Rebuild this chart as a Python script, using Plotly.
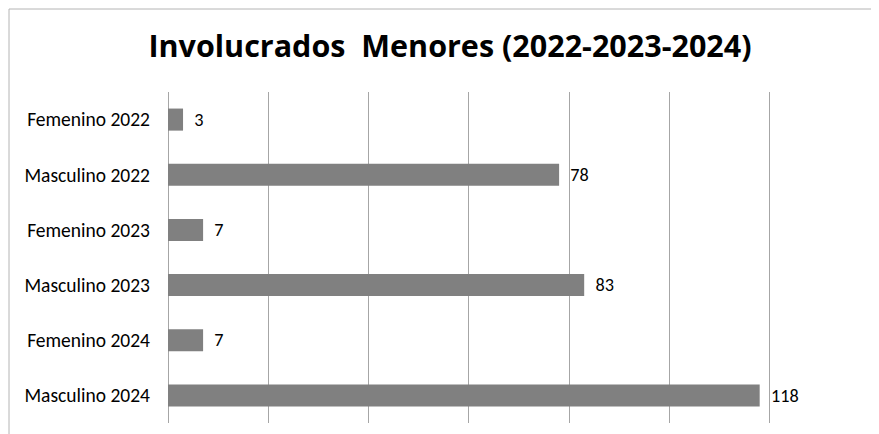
import plotly.graph_objects as go

categories = ["Femenino 2022", "Masculino 2022", "Femenino 2023", "Masculino 2023", "Femenino 2024", "Masculino 2024"]
values = [3, 78, 7, 83, 7, 118]
title_text = "Involucrados  Menores (2022-2023-2024)"

FONT = "Carlito, Calibri, Lato, sans-serif"
TFONT = "Open Sans, sans-serif"

fig = go.Figure(go.Bar(
    x=values,
    y=categories,
    orientation="h",
    marker=dict(color="#808080", line=dict(width=0)),
    text=values,
    texttemplate="  %{x}",
    textposition="outside",
    textfont=dict(family=FONT, size=19, color="#000000"),
    cliponaxis=False,
))

# page body has an 8px margin; figure starts at (8, 8)
OFF = 8
W, H = 879 - OFF, 434 - OFF
L, R, T, B = 168 - OFF, 9, 92 - OFF, 11
pw = W - L - R
ph = H - T - B

fig.update_layout(
    width=W, height=H,
    margin=dict(l=L, r=R, t=T, b=B),
    paper_bgcolor="white",
    plot_bgcolor="white",
    bargap=0.6,
    showlegend=False,
    title=dict(text="<b>" + title_text + "</b>", x=(450 - OFF) / W, xanchor="center",
               y=1 - (46 - OFF) / H, yanchor="middle",
               font=dict(family=TFONT, size=30.5, color="#000000")),
    font=dict(family=FONT, size=19, color="#000000"),
    xaxis=dict(range=[0, 140], dtick=20, showticklabels=False, showgrid=True,
               gridcolor="#a6a6a6", gridwidth=1, zeroline=True, zerolinecolor="#a6a6a6",
               zerolinewidth=1, showline=False, fixedrange=True),
    yaxis=dict(autorange="reversed", showgrid=False, showline=False, ticks="",
               ticklabelstandoff=17, tickfont=dict(family=FONT, size=19.5, color="#000000")),
    shapes=[dict(type="rect", xref="paper", yref="paper",
                 x0=(9 - 168) / pw, x1=(885 - 168) / pw,
                 y0=-(20) / ph, y1=1 + (92 - 9) / ph,
                 line=dict(color="#b4b4b4", width=1), fillcolor="rgba(0,0,0,0)", layer="below")],
)

fig.write_html("out.html")
